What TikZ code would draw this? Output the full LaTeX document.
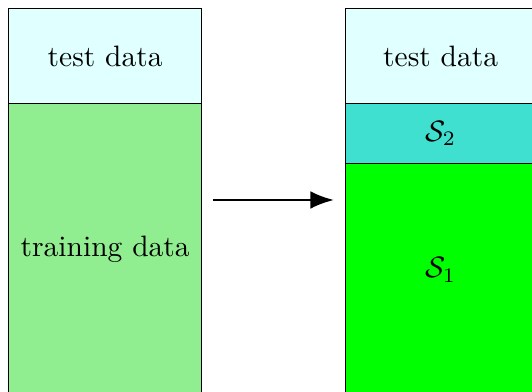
\documentclass[tikz,border=0pt]{standalone}
\usetikzlibrary{arrows.meta}
\definecolor{lcyan}{HTML}{E0FFFF}
\definecolor{lgreen}{HTML}{90EE90}
\definecolor{turq}{HTML}{40E0D0}
\definecolor{pgreen}{HTML}{00FF00}
\begin{document}
\begin{tikzpicture}[x=0.339pt,y=-0.339pt,
  part/.style={draw, rectangle, inner sep=0pt, anchor=north west, line width=0.45pt},
  flow/.style={line width=0.85pt, -{Latex[length=8pt,width=6pt]}}]
\useasboundingbox (0,0) rectangle (532,392);
\node[part, fill=lcyan, minimum width=193*0.339pt, minimum height=95*0.339pt] (ltest) at (8,8) {test data};
\node[part, fill=lgreen, minimum width=193*0.339pt, minimum height=292*0.339pt] (ltrain) at (8,103) {training data};
\node[part, fill=lcyan, minimum width=190*0.339pt, minimum height=95*0.339pt] (rtest) at (345,8) {test data};
\node[part, fill=turq, minimum width=190*0.339pt, minimum height=60*0.339pt] (s2) at (345,103) {$\mathcal{S}_2$};
\node[part, fill=pgreen, minimum width=190*0.339pt, minimum height=232*0.339pt, text height=0pt, text depth=0pt] (s1) at (345,163) {\raisebox{0.7pt}{$\mathcal{S}_1$}};
\coordinate (a1) at (213,200);
\coordinate (a2) at (334,200);
\draw[flow] (a1) -- (a2);
\end{tikzpicture}
\end{document}
